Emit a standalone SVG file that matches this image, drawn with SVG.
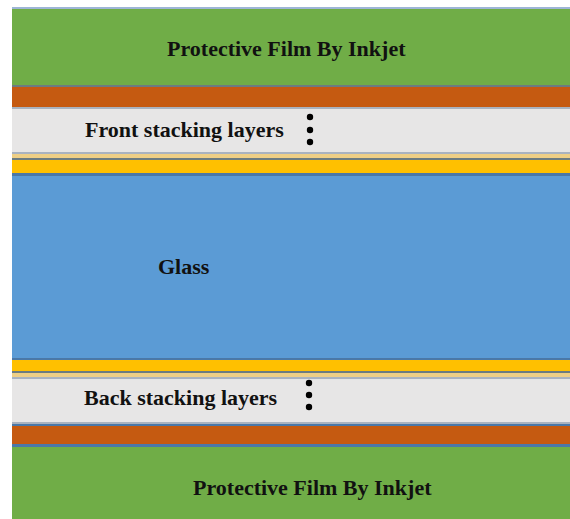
<svg xmlns="http://www.w3.org/2000/svg" width="570" height="519" viewBox="0 0 570 519">
  <style>
    .film { fill: #70AD47; }
    .bond { fill: #C55A11; }
    .stack { fill: #E7E6E6; }
    .paste { fill: #EECF86; }
    .busbar { fill: #FFC000; }
    .glass { fill: #5B9BD5; }
    .edge-blue { fill: #4A78A8; }
    .edge-grey { fill: #6C7C80; }
    .edge-light { fill: #A9B3C0; }
    .label { font-family: "Liberation Serif", "Times New Roman", serif; font-weight: bold; font-size: 22px; fill: #111111; }
    .dot { fill: #000000; }
  </style>
  <rect x="0" y="0" width="570" height="519" fill="#FFFFFF"/>

  <g id="film-top">
    <rect x="12" y="7" width="558" height="2" fill="#9DB5D6"/>
    <rect class="film" x="12" y="9" width="558" height="76"/>
    <rect class="edge-grey" x="12" y="85" width="558" height="2"/>
    <text class="label" x="167" y="56">Protective Film By Inkjet</text>
  </g>

  <g id="bond-top">
    <rect class="bond" x="12" y="87" width="558" height="20"/>
    <rect class="edge-light" x="12" y="107" width="558" height="2"/>
  </g>

  <g id="front-stack">
    <rect class="stack" x="12" y="109" width="558" height="43"/>
    <rect class="edge-light" x="12" y="152" width="558" height="2"/>
    <text class="label" x="85" y="137">Front stacking layers</text>
    <circle class="dot" cx="310" cy="117" r="3.2"/>
    <circle class="dot" cx="310" cy="130" r="3.2"/>
    <circle class="dot" cx="310" cy="142" r="3.2"/>
  </g>

  <g id="contact-top">
    <rect class="paste" x="12" y="154" width="558" height="4"/>
    <rect class="edge-grey" x="12" y="158" width="558" height="2"/>
    <rect class="busbar" x="12" y="160" width="558" height="13"/>
    <rect class="edge-blue" x="12" y="173" width="558" height="3"/>
  </g>

  <g id="glass">
    <rect class="glass" x="12" y="176" width="558" height="182"/>
    <rect class="edge-blue" x="12" y="358" width="558" height="2"/>
    <text class="label" x="158" y="274">Glass</text>
  </g>

  <g id="contact-bottom">
    <rect class="busbar" x="12" y="360" width="558" height="11"/>
    <rect class="edge-grey" x="12" y="371" width="558" height="2"/>
    <rect class="paste" x="12" y="373" width="558" height="4"/>
    <rect class="edge-light" x="12" y="377" width="558" height="2"/>
  </g>

  <g id="back-stack">
    <rect class="stack" x="12" y="379" width="558" height="43"/>
    <rect class="edge-light" x="12" y="422" width="558" height="2"/>
    <rect class="edge-blue" x="12" y="424" width="558" height="2"/>
    <text class="label" x="84" y="405">Back stacking layers</text>
    <circle class="dot" cx="309" cy="383" r="3.2"/>
    <circle class="dot" cx="309" cy="395" r="3.2"/>
    <circle class="dot" cx="309" cy="407" r="3.2"/>
  </g>

  <g id="bond-bottom">
    <rect class="bond" x="12" y="426" width="558" height="18"/>
    <rect class="edge-blue" x="12" y="444" width="558" height="3"/>
  </g>

  <g id="film-bottom">
    <rect class="film" x="12" y="447" width="558" height="72"/>
    <text class="label" x="193" y="495">Protective Film By Inkjet</text>
  </g>

  <g id="connectors"/>
</svg>
